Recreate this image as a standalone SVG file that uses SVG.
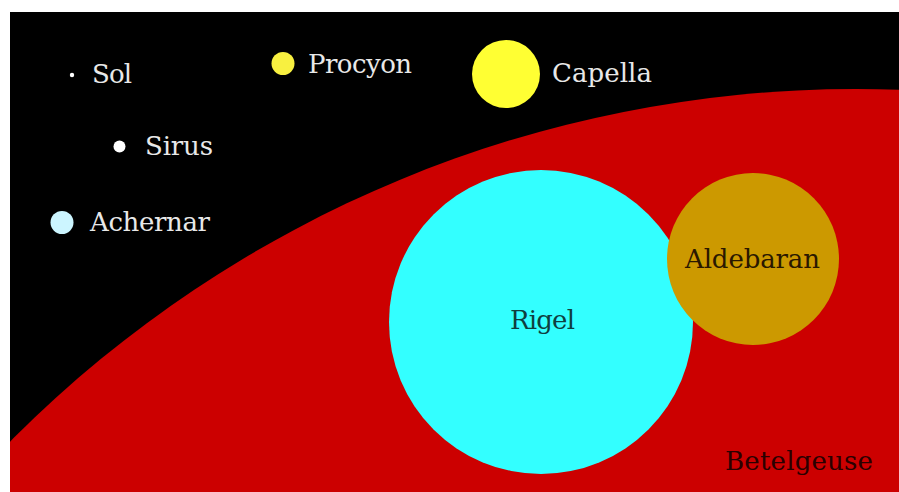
<svg xmlns="http://www.w3.org/2000/svg" width="899" height="492" viewBox="0 0 899 492">
<defs>
<clipPath id="frame"><rect x="10" y="12" width="889" height="480"/></clipPath>
</defs>
<style>
text{font-family:"DejaVu Serif","Liberation Serif",serif;font-size:26px}
.lt{fill:#e8e8e8}
.dk{fill:#1a1010}
</style>
<rect x="0" y="0" width="899" height="492" fill="#ffffff"/>
<rect x="10" y="12" width="889" height="480" fill="#000000"/>
<g clip-path="url(#frame)">
<g id="betelgeuse">
<circle cx="856" cy="1280" r="1191" fill="#cc0000"/>
<text class="dk" x="725" y="470" textLength="148" style="fill:#2a0000">Betelgeuse</text>
</g>
<g id="rigel">
<circle cx="541" cy="322" r="152" fill="#33ffff"/>
<text class="dk" x="510" y="329" textLength="65" style="fill:#0f3f3f">Rigel</text>
</g>
<g id="aldebaran">
<circle cx="753" cy="259" r="86" fill="#cc9900"/>
<text class="dk" x="685" y="268" textLength="135" style="fill:#2a1800">Aldebaran</text>
</g>
</g>
<g id="sol">
<circle cx="72" cy="75" r="2.2" fill="#ffffff"/>
<text class="lt" x="92" y="83" textLength="40">Sol</text>
</g>
<g id="sirus">
<circle cx="119.5" cy="146.5" r="6" fill="#ffffff"/>
<text class="lt" x="145" y="155" textLength="68">Sirus</text>
</g>
<g id="achernar">
<circle cx="62" cy="222.5" r="11.5" fill="#ccf5ff"/>
<text class="lt" x="90" y="231" textLength="120">Achernar</text>
</g>
<g id="procyon">
<circle cx="283" cy="63.5" r="11.5" fill="#f8f040"/>
<text class="lt" x="308" y="73" textLength="104">Procyon</text>
</g>
<g id="capella">
<circle cx="506" cy="74" r="34" fill="#ffff33"/>
<text class="lt" x="552" y="82" textLength="100">Capella</text>
</g>
</svg>
